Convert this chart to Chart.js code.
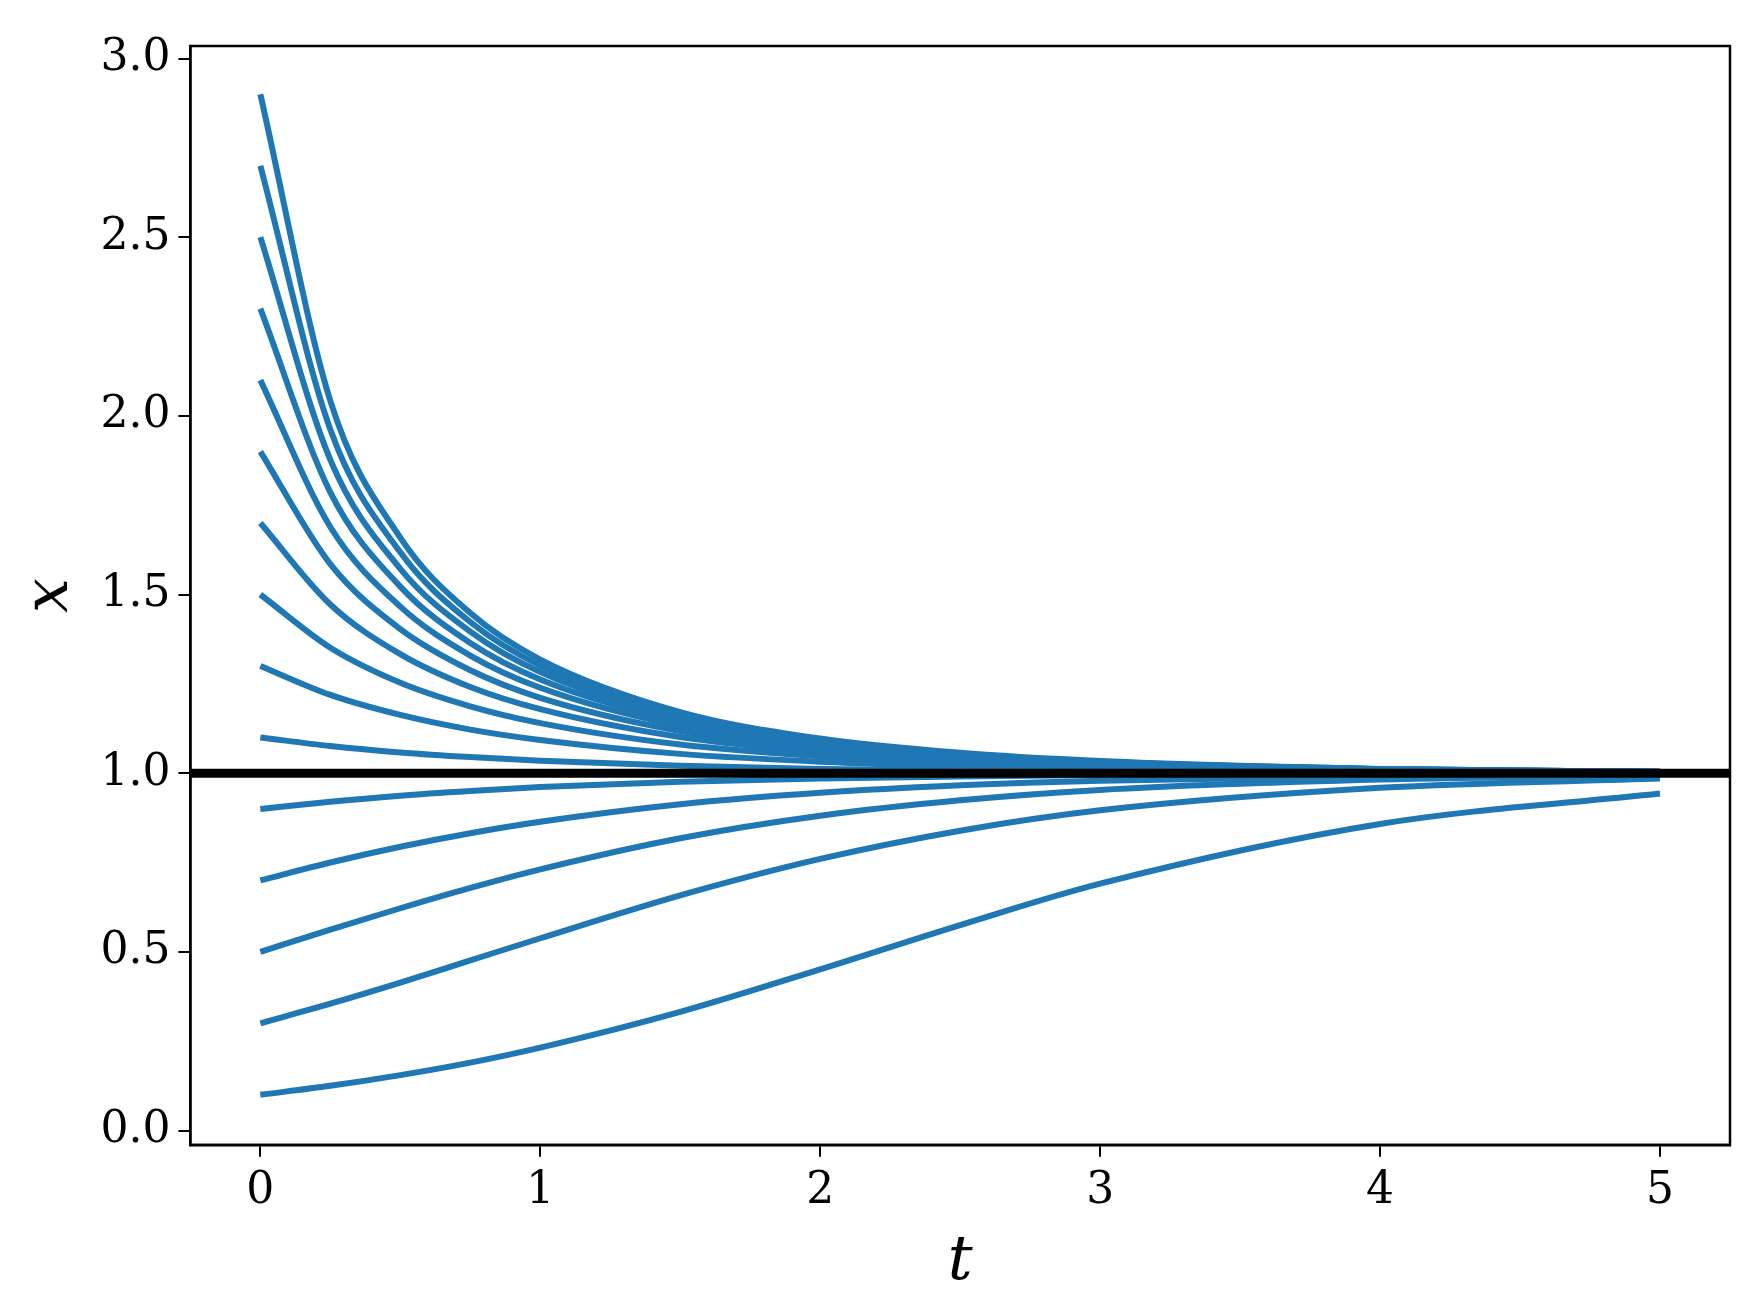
<!DOCTYPE html>
<html><head><meta charset="utf-8">
<script src="https://cdn.jsdelivr.net/npm/chart.js@4"></script>
<style>body{margin:0;background:#fff}#wrap{width:1754px;height:1310px}</style>
</head><body><div id="wrap"><canvas id="c"></canvas></div>
<script>
// time samples and x(t)
const times = [0, 0.25, 0.5, 0.75, 1, 1.5, 2, 2.5, 3, 4, 5];
const curves = [
  [0.1, 0.125, 0.155, 0.190, 0.232, 0.332, 0.451, 0.575, 0.691, 0.858, 0.943],
  [0.3, 0.355, 0.414, 0.476, 0.538, 0.658, 0.760, 0.839, 0.896, 0.959, 0.985],
  [0.5, 0.562, 0.622, 0.679, 0.731, 0.818, 0.881, 0.924, 0.953, 0.982, 0.993],
  [0.7, 0.750, 0.794, 0.832, 0.864, 0.913, 0.945, 0.966, 0.979, 0.992, 0.997],
  [0.9, 0.920, 0.937, 0.950, 0.961, 0.976, 0.985, 0.991, 0.995, 0.998, 0.999],
  [1.1, 1.076, 1.058, 1.045, 1.035, 1.021, 1.012, 1.008, 1.005, 1.002, 1.001],
  [1.3, 1.219, 1.163, 1.122, 1.093, 1.054, 1.032, 1.019, 1.012, 1.004, 1.002],
  [1.5, 1.351, 1.253, 1.187, 1.140, 1.080, 1.047, 1.028, 1.017, 1.006, 1.002],
  [1.7, 1.472, 1.333, 1.241, 1.179, 1.101, 1.059, 1.035, 1.021, 1.008, 1.003],
  [1.9, 1.585, 1.403, 1.288, 1.211, 1.118, 1.068, 1.040, 1.024, 1.009, 1.003],
  [2.1, 1.689, 1.466, 1.329, 1.239, 1.132, 1.076, 1.045, 1.027, 1.010, 1.004],
  [2.3, 1.786, 1.522, 1.364, 1.262, 1.144, 1.083, 1.049, 1.029, 1.011, 1.004],
  [2.5, 1.877, 1.572, 1.396, 1.283, 1.155, 1.088, 1.052, 1.031, 1.011, 1.004],
  [2.7, 1.962, 1.618, 1.423, 1.301, 1.163, 1.093, 1.055, 1.032, 1.012, 1.004],
  [2.9, 2.042, 1.659, 1.448, 1.318, 1.171, 1.097, 1.057, 1.034, 1.012, 1.004]
];
const equilibrium = 1.0;
const xTicks = [0, 1, 2, 3, 4, 5];
const yTicks = [0, 0.5, 1, 1.5, 2, 2.5, 3];

const blue = '#1f77b4';
const datasets = [{
  data: [{x: -0.25, y: equilibrium}, {x: 5.25, y: equilibrium}],
  borderColor: '#000', borderWidth: 9, pointRadius: 0, order: 0
}];
curves.forEach(c => datasets.push({
  data: c.map((y, i) => ({x: times[i], y: y})),
  borderColor: blue, borderWidth: 6, pointRadius: 0,
  cubicInterpolationMode: 'monotone', order: 1
}));

const frame = {
  id: 'frame',
  afterDraw(chart) {
    const a = chart.chartArea, ctx = chart.ctx;
    ctx.save();
    ctx.strokeStyle = '#000'; ctx.lineWidth = 2.5;
    ctx.strokeRect(a.left, a.top, a.right - a.left, a.bottom - a.top);
    ctx.restore();
  }
};

const font = {family: 'DejaVu Serif', size: 44};
new Chart(document.getElementById('c'), {
  type: 'line',
  data: {datasets: datasets},
  plugins: [frame],
  options: {
    responsive: true, maintainAspectRatio: false, animation: false,
    layout: {padding: {top: 46, right: 24, left: 10, bottom: 10}},
    plugins: {legend: {display: false}, tooltip: {enabled: false}},
    scales: {
      x: {
        type: 'linear', min: -0.25, max: 5.25,
        afterBuildTicks: s => { s.ticks = xTicks.map(v => ({value: v})); },
        ticks: {color: '#000', font: font, padding: 8, callback: v => v},
        grid: {drawOnChartArea: false, drawTicks: true, tickLength: 12, color: '#000', lineWidth: 2},
        border: {display: true, color: '#000', width: 2.5},
        title: {display: true, text: 't', color: '#000', padding: 0,
                font: {family: 'DejaVu Serif', size: 62, style: 'italic'}}
      },
      y: {
        type: 'linear', min: -0.04, max: 3.035,
        afterBuildTicks: s => { s.ticks = yTicks.map(v => ({value: v})); },
        ticks: {color: '#000', font: font, padding: 8, callback: v => v.toFixed(1)},
        grid: {drawOnChartArea: false, drawTicks: true, tickLength: 12, color: '#000', lineWidth: 2},
        border: {display: true, color: '#000', width: 2.5},
        title: {display: true, text: 'x', color: '#000', padding: 4,
                font: {family: 'DejaVu Serif', size: 62, style: 'italic'}}
      }
    }
  }
});
</script></body></html>
